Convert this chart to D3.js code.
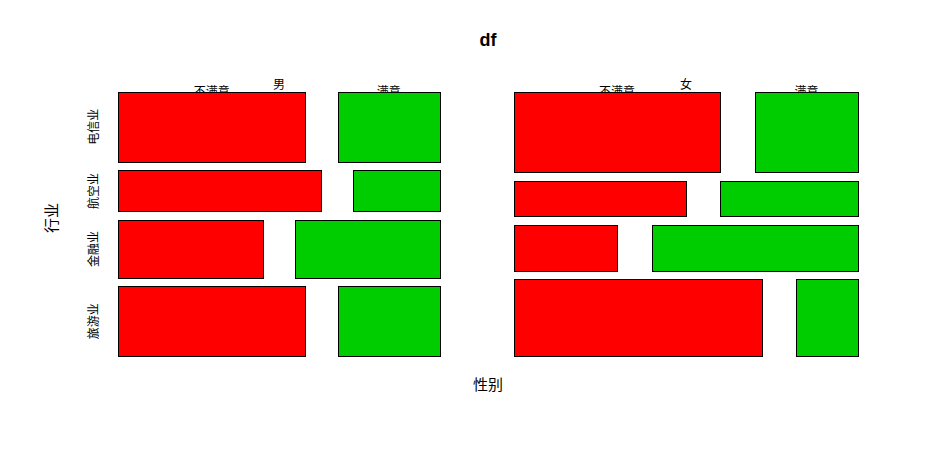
<!DOCTYPE html>
<html>
<head>
<meta charset="utf-8">
<script src="https://cdn.jsdelivr.net/npm/d3@7"></script>
<style>
  body { margin: 0; background: #fff; }
  text { font-family: "Noto Sans CJK SC", "DejaVu Sans", sans-serif; }
</style>
</head>
<body>
<svg id="chart" width="940" height="456"></svg>
<script>
// Data (counts read from the mosaic proportions)
const sexes = ["男", "女"];
const industries = ["电信业", "航空业", "金融业", "旅游业"];
const satisfaction = ["不满意", "满意"];
// counts[sex][industry] = [不满意, 满意]
const countsMale   = [[11, 6], [7, 3], [7, 7], [11, 6]];
const countsFemale = [[14, 7], [5, 4], [4, 8], [16, 4]];
const counts = [countsMale, countsFemale];
const colors = ["#FF0000", "#00CD00"];
const title = "df";
const xLabel = "性别";
const yLabel = "行业";

const svg = d3.select("#chart");
const W = 940, H = 456;
svg.append("rect").attr("width", W).attr("height", H).attr("fill", "#fff");

const x = d3.scaleLinear().domain([0, 1]).range([118, 858]);
const y = d3.scaleLinear().domain([0, 1]).range([92, 356]);
const off = 0.1;

function split(props, start, extent) {
  const n = props.length;
  const white = off * extent / Math.max(1, n - 1);
  const out = [];
  let pos = start;
  props.forEach((p, i) => {
    const size = (1 - off) * p * extent;
    out.push([pos, pos + size]);
    pos = pos + size + white;
  });
  return out;
}

const total = d3.sum(counts, s => d3.sum(s, r => d3.sum(r)));
const sexTotals = counts.map(s => d3.sum(s, r => d3.sum(r)));
const sexSpans = split(sexTotals.map(t => t / total), 0, 1);

const cells = [];
sexSpans.forEach(([x0, x1], si) => {
  const rowTotals = counts[si].map(r => d3.sum(r));
  const rowSpans = split(rowTotals.map(t => t / sexTotals[si]), 0, 1);
  rowSpans.forEach(([y0, y1], ri) => {
    const row = counts[si][ri];
    const colSpans = split(row.map(v => v / rowTotals[si === 0 ? ri : ri] ), x0, x1 - x0);
    colSpans.forEach(([cx0, cx1], ci) => {
      cells.push({ si, ri, ci, x0: cx0, x1: cx1, y0, y1 });
    });
  });
});

const labelG = svg.append("g");
// Title
svg.append("text").attr("x", x(0.5)).attr("y", 46)
  .attr("text-anchor", "middle")
  .style("font-family", "'Liberation Sans', Arial, sans-serif")
  .style("font-weight", "bold").style("font-size", "18px").text(title);

// Sex labels
sexSpans.forEach(([x0, x1], si) => {
  labelG.append("text").attr("x", x((x0 + x1) / 2)).attr("y", 83)
    .attr("text-anchor", "middle").attr("dominant-baseline", "central")
    .style("font-size", "12px").text(sexes[si]);
});
// Satisfaction labels (from first row in each sex)
cells.filter(c => c.ri === 0).forEach(c => {
  labelG.append("text").attr("x", x((c.x0 + c.x1) / 2)).attr("y", 90)
    .attr("text-anchor", "middle").attr("dominant-baseline", "central")
    .style("font-size", "12px").text(satisfaction[c.ci]);
});
// Industry labels (from first sex)
cells.filter(c => c.si === 0 && c.ci === 0).forEach(c => {
  const cy = y((c.y0 + c.y1) / 2);
  labelG.append("text").attr("transform", `translate(92,${cy}) rotate(-90)`)
    .attr("text-anchor", "middle").attr("dominant-baseline", "central")
    .style("font-size", "12px").text(industries[c.ri]);
});
// Axis titles
svg.append("text").attr("transform", `translate(50,218) rotate(-90)`)
  .attr("text-anchor", "middle").attr("dominant-baseline", "central")
  .style("font-size", "15px").text(yLabel);
svg.append("text").attr("x", x(0.5)).attr("y", 383)
  .attr("text-anchor", "middle").attr("dominant-baseline", "central")
  .style("font-size", "15px").text(xLabel);

// Rectangles
svg.append("g").selectAll("rect").data(cells).join("rect")
  .attr("x", d => Math.round(x(d.x0)) + 0.5)
  .attr("y", d => Math.round(y(d.y0)) + 0.5)
  .attr("width", d => Math.round(x(d.x1)) - Math.round(x(d.x0)))
  .attr("height", d => Math.round(y(d.y1)) - Math.round(y(d.y0)))
  .attr("fill", d => colors[d.ci])
  .attr("stroke", "#000").attr("stroke-width", 1);
</script>
</body>
</html>
